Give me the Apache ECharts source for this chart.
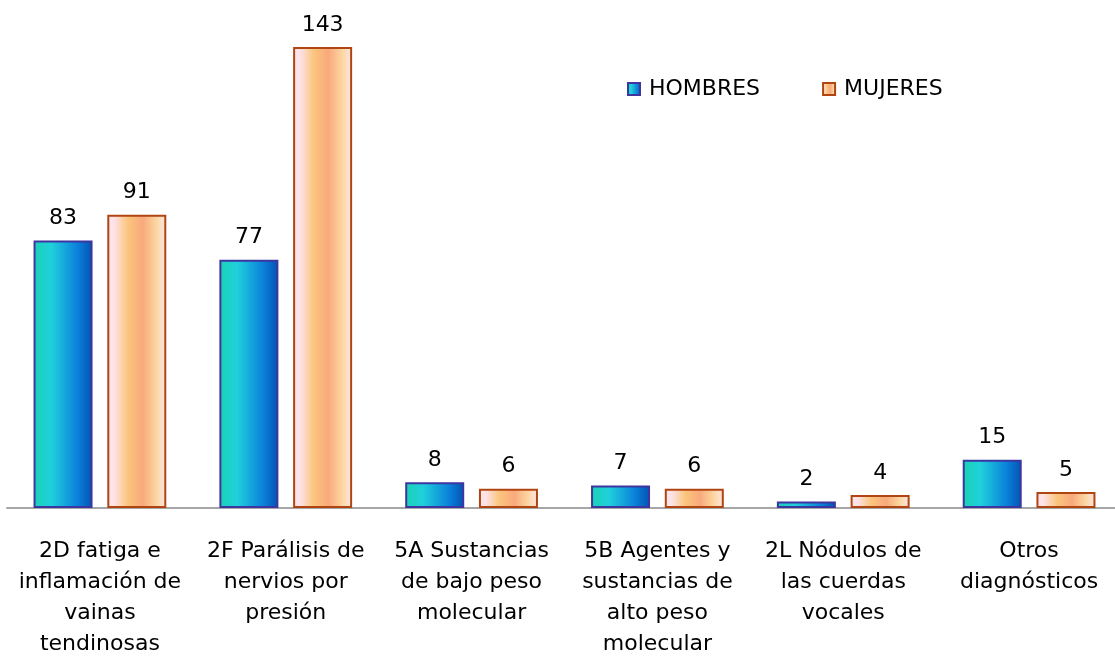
<!DOCTYPE html>
<html>
<head>
<meta charset="utf-8">
<script src="https://cdn.jsdelivr.net/npm/echarts@6/dist/echarts.min.js"></script>
<style>
  html, body { margin: 0; padding: 0; background: #fff; overflow: hidden; }
  #main_chart { width: 1130px; height: 660px; }
</style>
</head>
<body>
<div id="main_chart"></div>
<script>
// datos del gráfico
var categories = [
    '2D fatiga e\ninflamación de\nvainas\ntendinosas',
    '2F Parálisis de\nnervios por\npresión',
    '5A Sustancias\nde bajo peso\nmolecular',
    '5B Agentes y\nsustancias de\nalto peso\nmolecular',
    '2L Nódulos de\nlas cuerdas\nvocales',
    'Otros\ndiagnósticos'
];
var hombres = [83, 77, 8, 7, 2, 15];
var mujeres = [91, 143, 6, 6, 4, 5];

var FONT = '"DejaVu Sans", "Open Sans", sans-serif';
var FS = 22;

var blueGrad = new echarts.graphic.LinearGradient(0, 0, 1, 0, [
    {offset: 0, color: '#1ad2b4'},
    {offset: 0.3, color: '#20d0dc'},
    {offset: 0.75, color: '#0a80da'},
    {offset: 1, color: '#0352b0'}
]);
var orangeGrad = new echarts.graphic.LinearGradient(0, 0, 1, 0, [
    {offset: 0, color: '#fde6ee'},
    {offset: 0.12, color: '#fde2e6'},
    {offset: 0.35, color: '#fbc57c'},
    {offset: 0.6, color: '#f9a97c'},
    {offset: 0.82, color: '#fcd49e'},
    {offset: 1, color: '#fde8e6'}
]);

var mychart = echarts.init(document.getElementById('main_chart'));
var option = {
    animation: false,
    legend: {
        data: ['HOMBRES', 'MUJERES'],
        left: 622,
        top: 73,
        itemWidth: 12,
        itemHeight: 12,
        itemGap: 62,
        icon: 'rect',
        textStyle: {fontFamily: FONT, fontSize: FS, color: '#000', padding: [0, 0, 0, 4]}
    },
    grid: {left: 7, width: 1115, top: 47, bottom: 152, containLabel: false},
    xAxis: [{
        type: 'category',
        data: categories,
        axisLine: {lineStyle: {color: '#a6a6a6', width: 2}},
        axisTick: {show: false},
        axisLabel: {
            interval: 0,
            margin: 44,
            lineHeight: 31,
            fontFamily: FONT,
            fontSize: FS,
            color: '#000',
            verticalAlign: 'top',
            padding: [-16, 0, 0, 0]
        }
    }],
    yAxis: [{
        type: 'value',
        min: 0,
        max: 143,
        show: false,
        splitLine: {show: false}
    }],
    series: [
        {
            name: 'HOMBRES',
            type: 'bar',
            data: hombres,
            barWidth: 59,
            barGap: '25%',
            itemStyle: {color: blueGrad, borderColor: '#3d35a0', borderWidth: 2},
            label: {show: true, position: 'top', distance: 11, fontFamily: FONT, fontSize: FS, color: '#000'}
        },
        {
            name: 'MUJERES',
            type: 'bar',
            data: mujeres,
            barWidth: 59,
            itemStyle: {color: orangeGrad, borderColor: '#b04512', borderWidth: 2},
            label: {show: true, position: 'top', distance: 11, fontFamily: FONT, fontSize: FS, color: '#000'}
        }
    ]
};
mychart.setOption(option);
</script>
</body>
</html>
